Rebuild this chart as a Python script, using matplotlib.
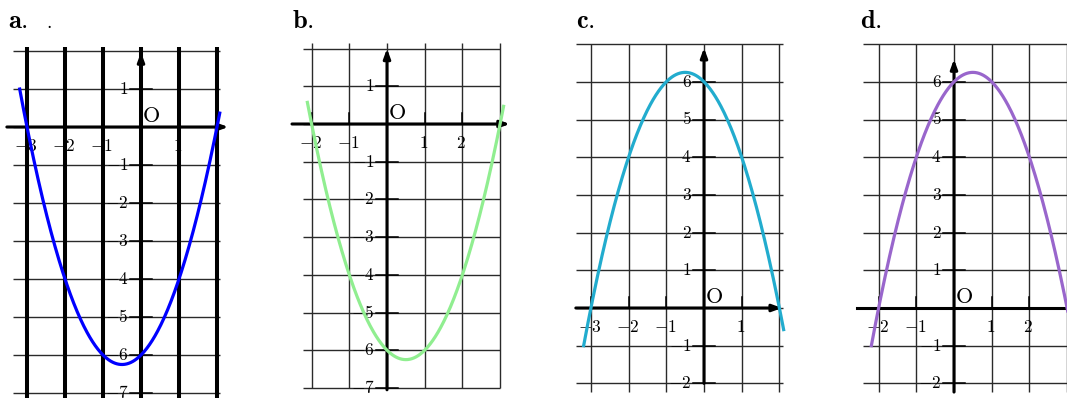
import matplotlib
matplotlib.use('Agg')
import numpy as np
import matplotlib.pyplot as plt

plt.rcParams['mathtext.fontset'] = 'cm'

W, H = 1067, 398

# values (y at integer x)
a_x = [-3, -2, -1, 0, 1, 2]
a_y = [0, -4, -6, -6, -4, 0]
b_x = [-2, -1, 0, 1, 2, 3]
b_y = [0, -4, -6, -6, -4, 0]
c_x = [-3, -2, -1, 0, 1, 2]
c_y = [0, 4, 6, 6, 4, 0]
d_x = [-2, -1, 0, 1, 2, 3]
d_y = [0, 4, 6, 6, 4, 0]

titles = ['a.', 'b.', 'c.', 'd.']
colors = ['#0000ff', '#90ee90', '#22acce', '#9966cc']

fig = plt.figure(figsize=(W / 100, H / 100), dpi=100)


def panel(left, right, ox, oy, u):
    ax = fig.add_axes([left / W, 0, (right - left) / W, 1])
    ax.set_xlim((left - ox) / u, (right - ox) / u)
    ax.set_ylim((oy - H) / u, oy / u)
    ax.axis('off')
    return ax


def draw(ax, px, py, color, xr, vgrid, vy, hgrid, hx, xaxis, yaxis,
         xlabs, ylabs, thick=False, arrow_x=True):
    # grid
    for v in vgrid:
        ax.plot([v, v], vy, color='k' if thick else '#2a2a2a',
                lw=2.9 if thick else 1.0, zorder=3 if thick else 1,
                clip_on=False, solid_capstyle='butt')
    for h in hgrid:
        ax.plot(hx, [h, h], color='#2a2a2a', lw=1.0, zorder=1,
                clip_on=False, solid_capstyle='butt')
    # ticks
    for t in xlabs:
        ax.plot([t, t], [0, 0.3], color='k', lw=1.1, zorder=2)
    for t in ylabs:
        ax.plot([-0.3, 0.3], [t, t], color='k', lw=1.1, zorder=2)
    # axes
    ap = dict(arrowstyle='-|>,head_length=0.55,head_width=0.2', lw=2.2,
              color='k', shrinkA=0, shrinkB=0)
    if arrow_x:
        ax.annotate('', xy=(xaxis[1], 0), xytext=(xaxis[0], 0),
                    arrowprops=ap, zorder=4, annotation_clip=False)
    else:
        ax.plot(xaxis, [0, 0], color='k', lw=2.2, zorder=4, clip_on=False)
    ax.annotate('', xy=(0, yaxis[1]), xytext=(0, yaxis[0]),
                arrowprops=ap, zorder=4, annotation_clip=False)
    # curve
    coef = np.polyfit(px, py, 2)
    xs = np.linspace(xr[0], xr[1], 300)
    ax.plot(xs, np.polyval(coef, xs), color=color, lw=2.3, zorder=5,
            clip_on=False, solid_capstyle='butt')
    # labels
    for t in xlabs:
        s = r'$%d$' % t if t > 0 else r'$-%d$' % (-t)
        ax.text(t - 0.03, -0.5, s, fontsize=12.5, ha='center', va='center',
                zorder=2)
    for t in ylabs:
        s = r'$%d$' % t if t > 0 else r'$-%d$' % (-t)
        ax.text(-0.33, t, s, fontsize=12.5, ha='right', va='center', zorder=2)
    ax.text(0.03, 0.02, r'$\mathrm{O}$', fontsize=16, ha='left',
            va='bottom', zorder=6)


ax = panel(0, 275, 141, 127, 38)
draw(ax, a_x, a_y, colors[0], (-3.2, 2.08), range(-3, 3), (-7.6, 2.1),
     range(-7, 3), (-3.37, 2.08), (-3.53, 2.3), (-7.6, 1.97),
     [-3, -2, -1, 1], [1, -1, -2, -3, -4, -5, -6, -7], thick=True)

ax = panel(280, 555, 387, 124, 37.7)
draw(ax, b_x, b_y, colors[1], (-2.12, 3.1), range(-2, 4), (-7.0, 2.15),
     range(-7, 3), (-2.23, 3.0), (-2.52, 3.26), (-7.05, 2.0),
     [-2, -1, 1, 2], [1, -1, -2, -3, -4, -5, -6, -7])

ax = panel(560, 835, 704, 308, 37.7)
draw(ax, c_x, c_y, colors[2], (-3.2, 2.12), range(-3, 3), (-2.23, 7.0),
     range(-2, 8), (-3.39, 2.1), (-3.4, 2.07), (-2.0, 6.9),
     [-3, -2, -1, 1], [6, 5, 4, 3, 2, 1, -1, -2])

ax = panel(840, 1067, 954, 308, 37.7)
draw(ax, d_x, d_y, colors[3], (-2.2, 3.05), range(-2, 4), (-2.23, 7.0),
     range(-2, 8), (-2.41, 3.1), (-2.57, 3.1), (-2.23, 6.6),
     [-2, -1, 1, 2], [6, 5, 4, 3, 2, 1, -1, -2], arrow_x=False)

# panel titles
for x0, t in zip([8, 292, 576, 860], titles):
    fig.text(x0 / W, 1 - 28 / H, r'$\mathbf{%s}$' % t, fontsize=19,
             ha='left', va='baseline')
fig.text(46 / W, 1 - 28 / H, '.', fontsize=12, ha='left', va='baseline',
         family='DejaVu Serif')

fig.savefig('out.png', dpi=100)
